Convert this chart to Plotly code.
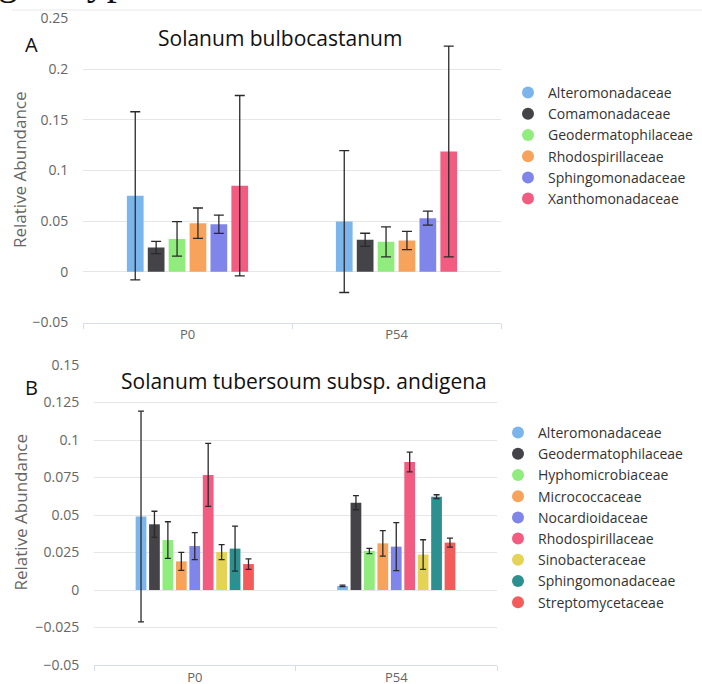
import plotly.graph_objects as go

W, H = 702, 684

categories = ["P0", "P54"]

# Panel A: Solanum bulbocastanum
families_a = ["Alteromonadaceae", "Comamonadaceae", "Geodermatophilaceae",
              "Rhodospirillaceae", "Sphingomonadaceae", "Xanthomonadaceae"]
colors_a = ["#7cb5ec", "#434348", "#90ed7d", "#f7a35c", "#8085e9", "#f15c80"]
a_p0 = [0.075, 0.024, 0.0325, 0.048, 0.047, 0.085]
a_p0_err = [0.083, 0.006, 0.017, 0.015, 0.009, 0.089]
a_p54 = [0.0496, 0.0316, 0.0296, 0.031, 0.053, 0.1187]
a_p54_err = [0.070, 0.0065, 0.0148, 0.009, 0.007, 0.104]

# Panel B: Solanum tuberosum subsp. andigena
families_b = ["Alteromonadaceae", "Geodermatophilaceae", "Hyphomicrobiaceae",
              "Micrococcaceae", "Nocardioidaceae", "Rhodospirillaceae",
              "Sinobacteraceae", "Sphingomonadaceae", "Streptomycetaceae"]
colors_b = ["#7cb5ec", "#434348", "#90ed7d", "#f7a35c", "#8085e9", "#f15c80",
            "#e4d354", "#2b908f", "#f45b5b"]
b_p0 = [0.049, 0.0438, 0.0333, 0.0191, 0.0293, 0.0767, 0.0253, 0.0276, 0.0173]
b_p0_err = [0.0703, 0.0087, 0.0122, 0.006, 0.009, 0.021, 0.005, 0.015, 0.0035]
b_p54 = [0.0027, 0.0582, 0.026, 0.0311, 0.0289, 0.0853, 0.0236, 0.0622, 0.0316]
b_p54_err = [0.0005, 0.0047, 0.0018, 0.0085, 0.016, 0.0066, 0.0099, 0.0013, 0.003]

FONT = "Open Sans"
ERR_COLOR = "#2a2a2a"


def px_x(x):
    return x / W


def px_y(y):
    return 1 - y / H


fig = go.Figure()


def add_panel(families, colors, p0, p0_err, p54, p54_err, xa, ya, legend, cap):
    for i, fam in enumerate(families):
        fig.add_trace(go.Bar(
            x=categories, y=[p0[i], p54[i]],
            error_y=dict(type="data", array=[p0_err[i], p54_err[i]],
                         color=ERR_COLOR, thickness=1.3, width=cap),
            marker=dict(color=colors[i], line=dict(width=0)),
            name=fam, showlegend=False, xaxis=xa, yaxis=ya,
        ))
    for i, fam in enumerate(families):
        fig.add_trace(go.Scatter(
            x=[None], y=[None], mode="markers",
            marker=dict(color=colors[i], size=11, symbol="circle"),
            name=fam, legend=legend, xaxis=xa, yaxis=ya,
        ))


add_panel(families_a, colors_a, a_p0, a_p0_err, a_p54, a_p54_err, "x", "y", "legend", 5)
add_panel(families_b, colors_b, b_p0, b_p0_err, b_p54, b_p54_err, "x2", "y2", "legend2", 3)

xaxis_common = dict(
    type="category", showline=True, linecolor="#d8dde6", linewidth=1,
    ticks="outside", tickson="boundaries", ticklen=5, tickcolor="#d8dde6",
    showgrid=False, tickfont=dict(family=FONT, size=13, color="#666666"),
    automargin=False, fixedrange=True,
)
yaxis_common = dict(
    showgrid=True, gridcolor="#e6e6e6", gridwidth=1, zeroline=False,
    showline=False, ticks="outside", ticklen=11, tickcolor="rgba(0,0,0,0)",
    tickfont=dict(family=FONT, size=14, color="#666666"), tick0=0,
    automargin=False,
)

legend_font = dict(family=FONT, size=14, color="#333333")

fig.update_layout(
    width=W, height=H,
    margin=dict(l=0, r=0, t=0, b=0, autoexpand=False),
    paper_bgcolor="white", plot_bgcolor="white",
    barmode="group", bargap=0.4, bargroupgap=0.2,
    xaxis=dict(domain=[px_x(83), px_x(501)], anchor="y", **xaxis_common),
    yaxis=dict(domain=[px_y(322.5), px_y(18.5)], anchor="x",
               range=[-0.05, 0.25], dtick=0.05, **yaxis_common),
    xaxis2=dict(domain=[px_x(94), px_x(497)], anchor="y2", **xaxis_common),
    yaxis2=dict(domain=[px_y(665), px_y(365)], anchor="x2",
                range=[-0.05, 0.15], dtick=0.025, **yaxis_common),
    legend=dict(x=px_x(508), y=px_y(77), xanchor="left", yanchor="top",
                font=legend_font, bgcolor="rgba(0,0,0,0)", itemsizing="constant"),
    legend2=dict(x=px_x(498), y=px_y(417), xanchor="left", yanchor="top",
                 font=legend_font, bgcolor="rgba(0,0,0,0)", itemsizing="constant"),
    showlegend=True,
)

annotations = [
    dict(text="genotypes.", x=px_x(-4), y=px_y(5), xanchor="left", yanchor="bottom",
         font=dict(family="Liberation Serif", size=40, color="#111111")),
    dict(text="A", x=px_x(31.5), y=px_y(45), font=dict(family=FONT, size=20, color="#111111")),
    dict(text="Solanum bulbocastanum", x=px_x(279.5), y=px_y(38),
         font=dict(family=FONT, size=21, color="#111111")),
    dict(text="B", x=px_x(31), y=px_y(387.5), font=dict(family=FONT, size=20, color="#111111")),
    dict(text="Solanum tubersoum subsp. andigena", x=px_x(304), y=px_y(381),
         font=dict(family=FONT, size=21, color="#111111")),
    dict(text="Relative Abundance", x=px_x(20), y=px_y(170), textangle=-90,
         font=dict(family=FONT, size=17, color="#666666")),
    dict(text="Relative Abundance", x=px_x(20), y=px_y(512.5), textangle=-90,
         font=dict(family=FONT, size=17, color="#666666")),
]
for a in annotations:
    a.setdefault("xanchor", "center")
    a.setdefault("yanchor", "middle")
    fig.add_annotation(xref="paper", yref="paper", showarrow=False, **a)

# thin rule across the top of the figure
fig.add_shape(type="line", xref="paper", yref="paper",
              x0=px_x(12), x1=1, y0=px_y(10), y1=px_y(10),
              line=dict(color="#e8e8e8", width=1))

fig.write_html("out.html")
